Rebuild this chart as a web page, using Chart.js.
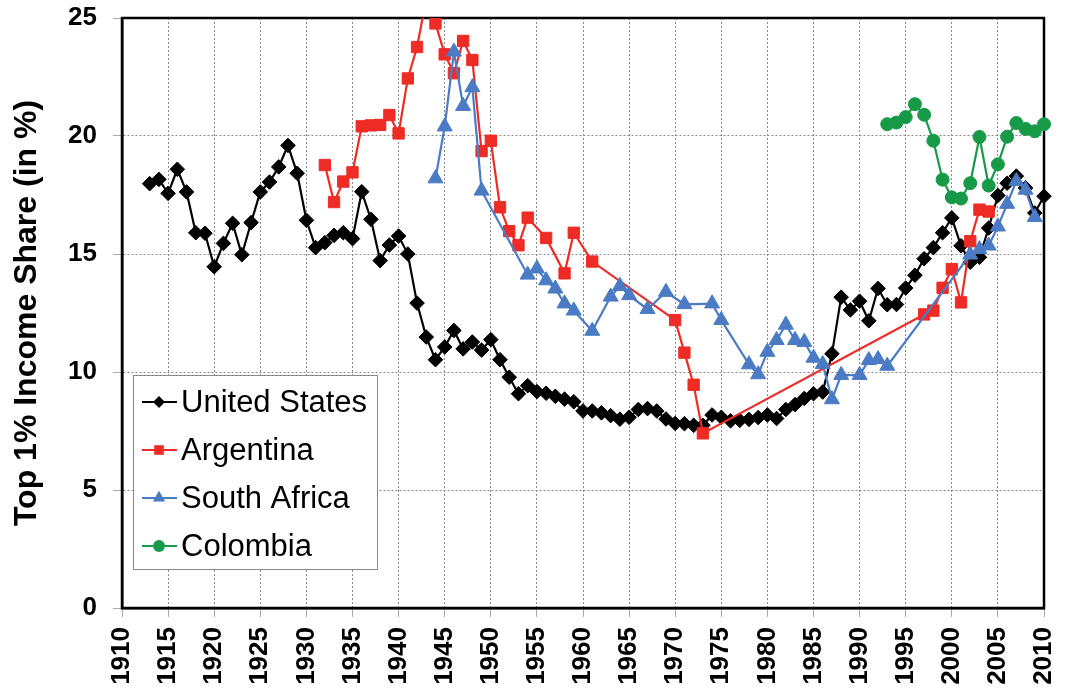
<!DOCTYPE html>
<html>
<head>
<meta charset="utf-8">
<script src="https://cdn.jsdelivr.net/npm/chart.js@4"></script>
<style>
  body { margin: 0; background: #fff; }
  #wrap { width: 1072px; height: 688px; }
</style>
</head>
<body>
<div id="wrap"><canvas id="myChart" width="1072" height="688"></canvas></div>
<script>
// datos (Top 1% income share, %)
const usStart = 1913;
const usValues = [
  17.98, 18.16, 17.57, 18.59, 17.63, 15.90, 15.88, 14.46, 15.45, 16.30, // 1913-1922
  14.97, 16.33, 17.63, 18.05, 18.69, 19.60, 18.42, 16.43, 15.27, 15.48, // 1923-1932
  15.79, 15.90, 15.65, 17.64, 16.47, 14.72, 15.38, 15.76, 15.00, 12.92, // 1933-1942
  11.48, 10.52, 11.06, 11.76, 10.98, 11.27, 10.93, 11.37, 10.52, 9.78,  // 1943-1952
  9.08, 9.42, 9.17, 9.10, 8.97, 8.85, 8.74, 8.35, 8.35, 8.27,           // 1953-1962
  8.15, 8.00, 8.08, 8.41, 8.45, 8.35, 8.01, 7.82, 7.81, 7.74,           // 1963-1972
  7.74, 8.18, 8.08, 7.93, 7.95, 7.99, 8.07, 8.18, 8.03, 8.41,           // 1973-1982
  8.62, 8.88, 9.08, 9.15, 10.77, 13.17, 12.63, 13.00, 12.17, 13.54,     // 1983-1992
  12.85, 12.86, 13.56, 14.10, 14.80, 15.27, 15.90, 16.53, 15.35, 14.65, // 1993-2002
  14.86, 16.10, 17.48, 18.00, 18.30, 17.80, 16.74, 17.45                // 2003-2010
];

const argYears = [1932, 1933, 1934, 1935, 1936, 1937, 1938, 1939, 1940, 1941, 1942, 1943, 1944,
  1945, 1946, 1947, 1948, 1949, 1950, 1951, 1952, 1953, 1954, 1956, 1958, 1959, 1961,
  1970, 1971, 1972, 1973, 1997, 1998, 1999, 2000, 2001, 2002, 2003, 2004];
const argValues = [18.77, 17.20, 18.07, 18.46, 20.41, 20.45, 20.47, 20.89, 20.11, 22.44, 23.77, 25.8, 24.77,
  23.46, 22.66, 24.03, 23.22, 19.36, 19.80, 16.98, 15.97, 15.37, 16.54, 15.68, 14.18, 15.90, 14.68,
  12.20, 10.82, 9.46, 7.40, 12.44, 12.60, 13.57, 14.36, 12.95, 15.54, 16.88, 16.80];

const saYears = [1944, 1945, 1946, 1947, 1948, 1949, 1954, 1955, 1956, 1957, 1958, 1959, 1961,
  1963, 1964, 1965, 1967, 1969, 1971, 1974, 1975, 1978, 1979, 1980, 1981, 1982, 1983, 1984,
  1985, 1986, 1987, 1988, 1990, 1991, 1992, 1993, 2002, 2003, 2004, 2005, 2006, 2007, 2008, 2009];
const saValues = [18.20, 20.40, 23.57, 21.27, 22.06, 17.68, 14.12, 14.38, 13.88, 13.53, 12.90, 12.60, 11.74,
  13.19, 13.64, 13.25, 12.66, 13.39, 12.87, 12.90, 12.20, 10.32, 9.90, 10.85, 11.35, 12.00, 11.35, 11.27,
  10.60, 10.33, 8.84, 9.87, 9.87, 10.50, 10.54, 10.26, 14.97, 15.20, 15.35, 16.16, 17.12, 18.09, 17.72, 16.56];

const colStart = 1993;
const colValues = [20.50, 20.57, 20.80, 21.35, 20.90, 19.80, 18.15, 17.40, 17.35, 18.00,
  19.96, 17.90, 18.80, 19.97, 20.55, 20.30, 20.20, 20.50];

const yTicks = [0, 5, 10, 15, 20, 25];

function pts(years, values) {
  return values.map((v, i) => ({ x: years[i], y: v }));
}
const usYears = usValues.map((v, i) => usStart + i);
const colYears = colValues.map((v, i) => colStart + i);

Chart.defaults.font.family = '"Liberation Sans", Arial, sans-serif';
Chart.defaults.color = '#000';

function serie(label, data, color, style, radius, order) {
  return {
    label: label,
    data: data,
    borderColor: color,
    backgroundColor: color,
    pointBackgroundColor: color,
    pointBorderColor: color,
    pointStyle: style,
    pointRadius: radius,
    pointBorderWidth: 1,
    borderWidth: 2.2,
    tension: 0,
    order: order,
    clip: { left: 12, right: 12, top: 0, bottom: 12 }
  };
}

// marco negro y leyenda dentro del area
const frame = {
  id: 'frame',
  beforeDatasetsDraw(chart) {
    const { ctx, chartArea: a } = chart;
    ctx.save();
    ctx.strokeStyle = '#000';
    ctx.lineWidth = 2.5;
    ctx.strokeRect(a.left, a.top, a.right - a.left, a.bottom - a.top);
    ctx.restore();
  }
};

function marker(ctx, style, x, y, r) {
  ctx.beginPath();
  if (style === 'rectRot') {
    ctx.moveTo(x - r, y); ctx.lineTo(x, y - r); ctx.lineTo(x + r, y); ctx.lineTo(x, y + r);
  } else if (style === 'rect') {
    const s = r * Math.SQRT1_2;
    ctx.rect(x - s, y - s, 2 * s, 2 * s);
  } else if (style === 'triangle') {
    ctx.moveTo(x, y - r);
    ctx.lineTo(x + r * 0.866, y + r * 0.5);
    ctx.lineTo(x - r * 0.866, y + r * 0.5);
  } else {
    ctx.arc(x, y, r, 0, Math.PI * 2);
  }
  ctx.closePath();
  ctx.fill();
}

const legendBox = {
  id: 'legendBox',
  afterDraw(chart) {
    const { ctx, chartArea: a } = chart;
    const x0 = a.left + 11, y0 = a.top + 357, w = 244, h = 194;
    ctx.save();
    ctx.fillStyle = '#fff';
    ctx.fillRect(x0, y0, w, h);
    ctx.strokeStyle = '#888';
    ctx.lineWidth = 1;
    ctx.strokeRect(x0 + 0.5, y0 + 0.5, w, h);
    const sizes = [7, 8, 8.5, 7];
    chart.data.datasets.forEach((ds, i) => {
      const cy = y0 + 27 + i * 48;
      ctx.strokeStyle = ds.borderColor;
      ctx.lineWidth = 2;
      ctx.beginPath();
      ctx.moveTo(x0 + 9, cy);
      ctx.lineTo(x0 + 44, cy);
      ctx.stroke();
      ctx.fillStyle = ds.borderColor;
      marker(ctx, ds.pointStyle, x0 + 26, cy, sizes[i] * 0.85);
      ctx.fillStyle = '#000';
      ctx.font = '31px "Liberation Sans", Arial, sans-serif';
      ctx.textBaseline = 'middle';
      ctx.fillText(ds.label, x0 + 48, cy + 1);
    });
    ctx.restore();
  }
};

let ctx = document.getElementById('myChart').getContext('2d');
let chart = new Chart(ctx, {
  type: 'line',
  data: {
    datasets: [
      serie('United States', pts(usYears, usValues), '#000000', 'rectRot', 7.3, 4),
      serie('Argentina', pts(argYears, argValues), '#EE2B24', 'rect', 8, 3),
      serie('South Africa', pts(saYears, saValues), '#4B7BC4', 'triangle', 8.7, 2),
      serie('Colombia', pts(colYears, colValues), '#179A48', 'circle', 6.5, 1)
    ]
  },
  options: {
    responsive: false,
    animation: false,
    devicePixelRatio: 1,
    layout: { padding: { top: 18, right: 28, left: 0, bottom: 0 } },
    plugins: {
      legend: { display: false },
      tooltip: { enabled: false }
    },
    scales: {
      x: {
        type: 'linear',
        min: 1910,
        max: 2010,
        afterFit(s) { s.height = 80; s.paddingLeft = 0; s.paddingRight = 0; },
        afterBuildTicks(s) {
          s.ticks = [];
          for (let y = 1910; y <= 2010; y += 5) s.ticks.push({ value: y });
        },
        ticks: {
          stepSize: 5,
          autoSkip: false,
          minRotation: 90,
          maxRotation: 90,
          padding: 10,
          color: '#000',
          font: { size: 26, weight: 'bold' },
          callback: (v) => String(v)
        },
        grid: { color: '#8a8a8a', lineWidth: 1, tickLength: 9, tickColor: '#aaa' },
        border: { display: true, color: '#000', width: 2.5, dash: [2, 2] }
      },
      y: {
        min: 0,
        max: 25,
        afterFit(s) { s.width = 122; s.paddingTop = 0; s.paddingBottom = 0; },
        afterBuildTicks(s) { s.ticks = yTicks.map(v => ({ value: v })); },
        ticks: {
          stepSize: 5,
          padding: 16,
          color: '#000',
          font: { size: 26, weight: 'bold' }
        },
        grid: { color: '#8a8a8a', lineWidth: 1, tickLength: 9, tickColor: '#aaa' },
        border: { display: true, color: '#000', width: 2.5, dash: [2, 2] },
        title: {
          display: true,
          text: 'Top 1% Income Share (in %)',
          color: '#000',
          font: { size: 32, weight: 'bold' },
          padding: { top: 8, bottom: 0 }
        }
      }
    }
  },
  plugins: [frame, legendBox]
});
</script>
</body>
</html>
